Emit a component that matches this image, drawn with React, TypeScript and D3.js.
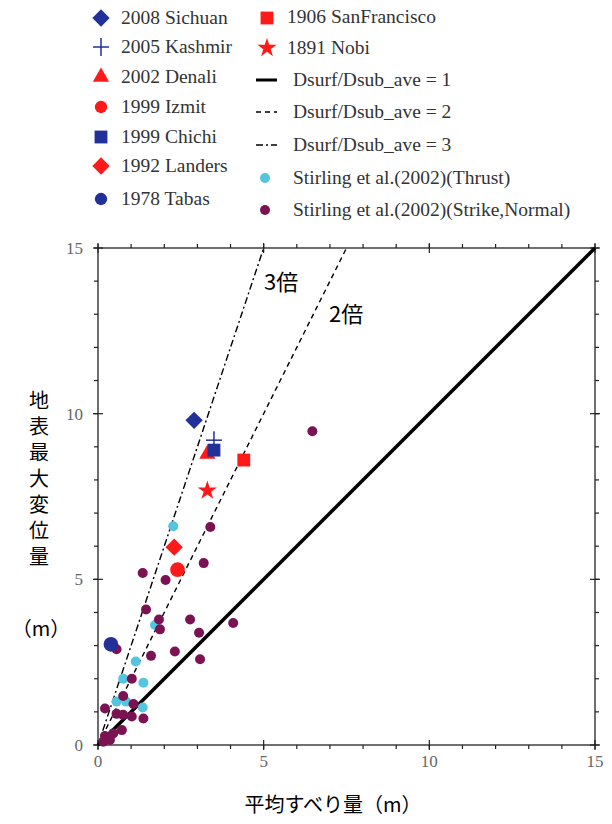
import React from "react";
import * as d3 from "d3";

// ---- data ----
const eventNames = ["2008 Sichuan", "2005 Kashmir", "2002 Denali", "1999 Izmit", "1999 Chichi", "1992 Landers", "1978 Tabas", "1906 SanFrancisco", "1891 Nobi"];
const eventX = [2.9, 3.5, 3.3, 2.4, 3.5, 2.3, 0.39, 4.4, 3.3];
const eventY = [9.8, 9.2, 8.78, 5.29, 8.9, 5.97, 3.04, 8.6, 7.68];
const eventShapes = ["diamond", "plus", "triangle", "circle", "square", "diamond", "circle", "square", "star"];
const eventColors = ["#22309a", "#22309a", "#ff1a1a", "#ff1a1a", "#22309a", "#ff1a1a", "#22309a", "#ff1a1a", "#ff1a1a"];
const drawOrder = [2, 3, 5, 6, 7, 8, 0, 4, 1];

const thrustX = [2.27, 1.72, 1.14, 0.76, 1.37, 0.56, 0.85, 1.35];
const thrustY = [6.6, 3.62, 2.52, 2.0, 1.88, 1.31, 1.31, 1.13];

const strikeX = [3.39, 3.19, 1.35, 2.04, 6.47, 1.45, 1.84, 1.87, 2.78, 4.08, 3.05, 0.56, 1.6, 2.32, 3.08, 1.02, 0.76, 0.21, 1.07, 1.37, 0.56, 0.76, 1.02, 0.72, 0.46, 0.21, 0.36, 0.16];
const strikeY = [6.58, 5.49, 5.19, 4.98, 9.47, 4.09, 3.79, 3.49, 3.79, 3.68, 3.39, 2.89, 2.69, 2.82, 2.59, 2.0, 1.48, 1.1, 1.24, 0.8, 0.94, 0.91, 0.86, 0.45, 0.35, 0.27, 0.15, 0.1];

const ratios = [1, 2, 3];
const ratioLabels = ["Dsurf/Dsub_ave = 1", "Dsurf/Dsub_ave = 2", "Dsurf/Dsub_ave = 3"];
const majorTicks = [0, 5, 10, 15];
const minorTicks = d3.range(0, 16, 1);

const W = 612, H = 824;
const x = d3.scaleLinear().domain([0, 15]).range([98, 595]);
const y = d3.scaleLinear().domain([0, 15]).range([745, 248]);

const CYAN = "#55c4df";
const PURPLE = "#7b1252";

function markerPath(shape: string): string {
  const s = d3.symbol();
  switch (shape) {
    case "diamond": return s.type(d3.symbolSquare).size(150)() as string;
    case "square": return s.type(d3.symbolSquare).size(165)() as string;
    case "triangle": return s.type(d3.symbolTriangle).size(115)() as string;
    case "circle": return s.type(d3.symbolCircle).size(170)() as string;
    case "star": return s.type(d3.symbolStar).size(115)() as string;
    default: return "";
  }
}

function Marker({ shape, color, cx, cy, small }: { shape: string; color: string; cx: number; cy: number; small?: boolean }) {
  if (shape === "plus") {
    return (
      <g transform={`translate(${cx},${cy})`} stroke={color} strokeWidth={1.5}>
        <line x1={-8} x2={8} y1={0} y2={0} />
        <line x1={0} x2={0} y1={-9} y2={9} />
      </g>
    );
  }
  let d = markerPath(shape);
  if (shape === "circle" && small) d = d3.symbol().type(d3.symbolCircle).size(120)() as string;
  const rot = shape === "diamond" ? 45 : 0;
  return <path d={d} fill={color} transform={`translate(${cx},${cy}) rotate(${rot})`} />;
}

export default function App() {
  const serif = "'Times New Roman', 'Liberation Serif', 'DejaVu Serif', serif";
  const jp = "'Noto Sans CJK JP', sans-serif";
  const legendLeft = [0, 1, 2, 3, 4, 5, 6];
  const legendLeftY = [18, 47, 77, 107, 137, 166, 199];
  const dashes = ["", "5,4", "7,3,2,3"];
  const lineY = [80, 112, 145];
  return (
    <svg width={W} height={H} style={{ position: "absolute", left: 0, top: 0, background: "#fff" }}>
      <rect width={W} height={H} fill="#fff" />
      {/* legend */}
      <g style={{ fontFamily: serif }} fontSize={19.5} fill="#333">
        {legendLeft.map((i, k) => (
          <g key={i}>
            <Marker shape={eventShapes[i]} color={eventColors[i]} cx={101} cy={legendLeftY[k]} small />
            <text x={121} y={legendLeftY[k] + 6}>{eventNames[i]}</text>
          </g>
        ))}
        <Marker shape="square" color="#ff1a1a" cx={267} cy={18} />
        <text x={287} y={23}>{eventNames[7]}</text>
        <Marker shape="star" color="#ff1a1a" cx={267} cy={48} />
        <text x={287} y={54}>{eventNames[8]}</text>
        {ratios.map((r, i) => (
          <g key={r}>
            <line x1={256} x2={277} y1={lineY[i]} y2={lineY[i]} stroke="#000" strokeWidth={i === 0 ? 3 : 1.5} strokeDasharray={dashes[i]} />
            <text x={293} y={lineY[i] + 6}>{ratioLabels[i]}</text>
          </g>
        ))}
        <circle cx={265} cy={178} r={5} fill={CYAN} />
        <text x={293} y={184}>Stirling et al.(2002)(Thrust)</text>
        <circle cx={265} cy={210} r={5} fill={PURPLE} />
        <text x={293} y={216}>Stirling et al.(2002)(Strike,Normal)</text>
      </g>

      {/* frame */}
      <rect x={x(0)} y={y(15)} width={x(15) - x(0)} height={y(0) - y(15)} fill="none" stroke="#222" strokeWidth={1.3} />
      {/* ticks */}
      <g stroke="#222" strokeWidth={1.2}>
        {minorTicks.map((t) => (
          <g key={t}>
            <line x1={x(t)} x2={x(t)} y1={y(0)} y2={y(0) + 4} />
            <line x1={x(t)} x2={x(t)} y1={y(15)} y2={y(15) - 4} />
            <line x1={x(0)} x2={x(0) - 4} y1={y(t)} y2={y(t)} />
            <line x1={x(15)} x2={x(15) + 4} y1={y(t)} y2={y(t)} />
          </g>
        ))}
        {majorTicks.map((t) => (
          <g key={t}>
            <line x1={x(t)} x2={x(t)} y1={y(0) - 5} y2={y(0) + 5} />
            <line x1={x(t)} x2={x(t)} y1={y(15) - 5} y2={y(15) + 5} />
            <line x1={x(0) - 5} x2={x(0) + 5} y1={y(t)} y2={y(t)} />
            <line x1={x(15) - 5} x2={x(15) + 5} y1={y(t)} y2={y(t)} />
          </g>
        ))}
      </g>
      <g style={{ fontFamily: serif }} fontSize={17} fill="#666">
        {majorTicks.map((t) => (
          <text key={"x" + t} x={x(t)} y={y(0) + 22} textAnchor="middle">{t}</text>
        ))}
        {majorTicks.map((t) => (
          <text key={"y" + t} x={x(0) - 15} y={y(t) + 6} textAnchor="end">{t}</text>
        ))}
      </g>

      {/* ratio lines */}
      {ratios.map((r, i) => (
        <line key={r} x1={x(0)} y1={y(0)} x2={x(15 / r)} y2={y(15)} stroke="#000" strokeWidth={i === 0 ? 3.5 : 1.4} strokeDasharray={dashes[i]} />
      ))}

      {/* Stirling points */}
      {thrustX.map((v, i) => (
        <circle key={"t" + i} cx={x(v)} cy={y(thrustY[i])} r={5} fill={CYAN} />
      ))}
      {strikeX.map((v, i) => (
        <circle key={"s" + i} cx={x(v)} cy={y(strikeY[i])} r={5} fill={PURPLE} />
      ))}

      {/* events */}
      {drawOrder.map((i) => (
        <Marker key={i} shape={eventShapes[i]} color={eventColors[i]} cx={x(eventX[i])} cy={y(eventY[i])} />
      ))}

      {/* ratio labels */}
      <g style={{ fontFamily: jp }} fontSize={22} fill="#000">
        <text x={264} y={290}>3倍</text>
        <text x={329} y={322}>2倍</text>
      </g>

      {/* axis titles */}
      <g style={{ fontFamily: jp }} fontSize={20} fill="#000">
        <text x={39} y={390} style={{ writingMode: "vertical-rl", textOrientation: "upright", letterSpacing: "6px" }}>地表最大変位量</text>
        <text x={41} y={636} textAnchor="middle">（m）</text>
        <text x={333} y={812} textAnchor="middle">平均すべり量（m）</text>
      </g>
    </svg>
  );
}
